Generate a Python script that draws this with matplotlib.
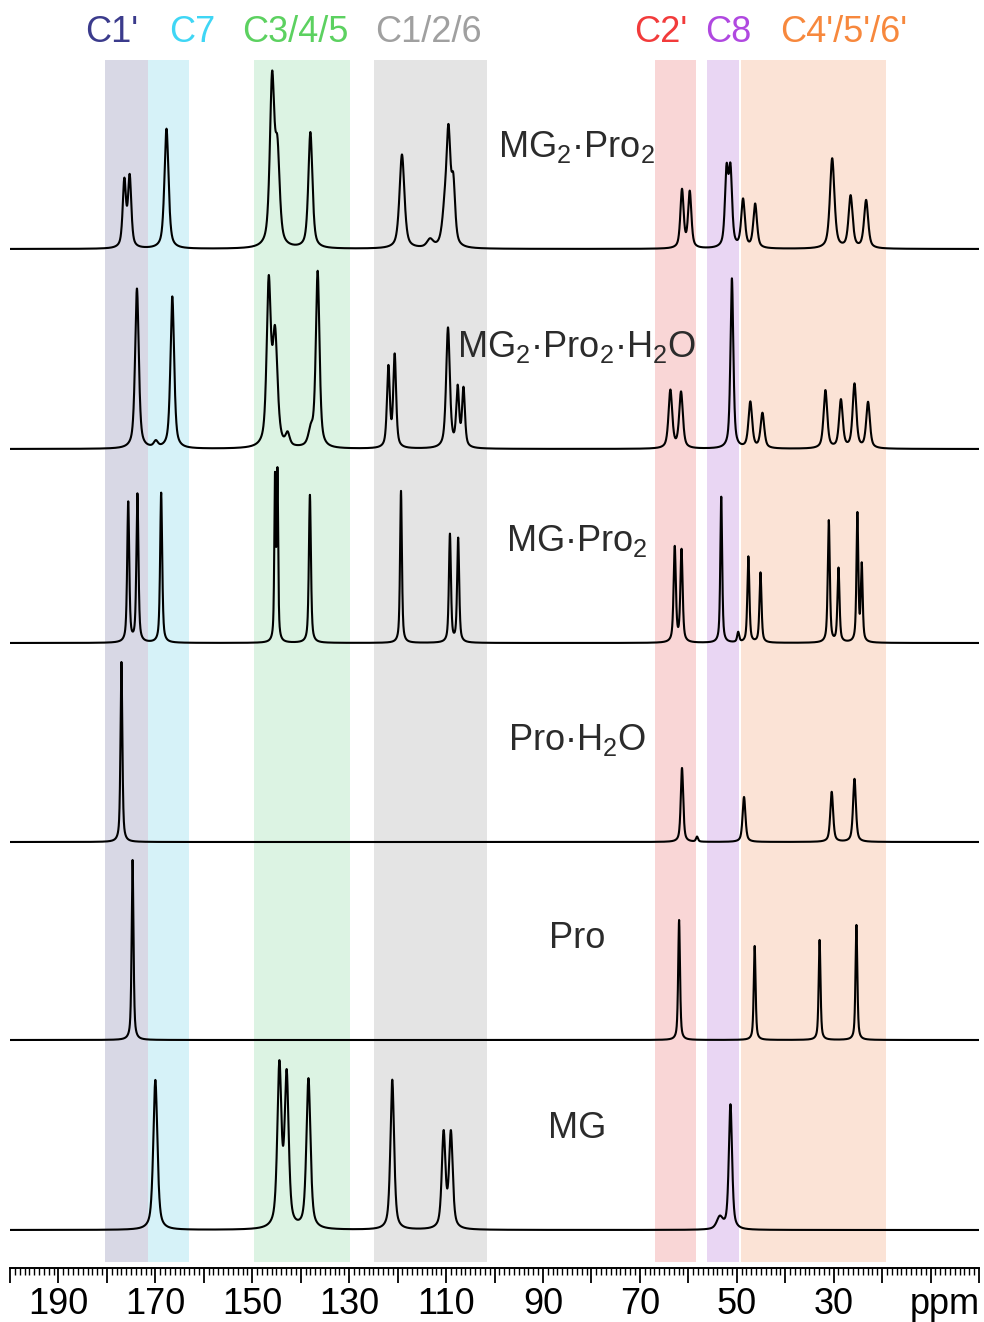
import numpy as np
import matplotlib
matplotlib.use("Agg")
import matplotlib.pyplot as plt
from matplotlib.ticker import MultipleLocator, FuncFormatter

plt.rcParams['font.family'] = ['Liberation Sans', 'DejaVu Sans']
plt.rcParams['mathtext.default'] = 'regular'

# ---- data: 13C CP/MAS peak lists (ppm, intensity, fwhm in ppm) ----
names = ["MG", "Pro", "Pro·H$_2$O", "MG·Pro$_2$",
         "MG$_2$·Pro$_2$·H$_2$O", "MG$_2$·Pro$_2$"]

mg_shift = [170.0, 144.4, 142.9, 138.4, 121.1, 110.5, 109.0, 53.5, 51.3]
mg_height = [150, 160, 150, 150, 150, 95, 95, 12, 125]
mg_fwhm = [1.0, 1.0, 1.0, 1.0, 0.9, 0.9, 0.9, 1.5, 0.8]

pro_shift = [174.7, 61.9, 46.3, 32.9, 25.3]
pro_height = [180, 120, 94, 100, 115]
pro_fwhm = [0.45, 0.45, 0.45, 0.45, 0.45]

proh2o_shift = [177.0, 61.3, 58.2, 48.5, 30.4, 25.7]
proh2o_height = [180, 74, 5, 45, 50, 63]
proh2o_fwhm = [0.45, 0.6, 0.5, 0.7, 0.7, 0.7]

mgpro2_shift = [175.6, 173.7, 168.8, 145.3, 144.8, 138.1, 119.3, 109.2, 107.5,
                62.8, 61.4, 53.2, 49.7, 47.6, 45.1, 31.0, 29.0, 25.1, 24.2]
mgpro2_height = [140, 148, 150, 160, 165, 148, 152, 108, 104,
                 95, 92, 146, 10, 86, 70, 122, 74, 128, 76]
mgpro2_fwhm = [0.5, 0.5, 0.5, 0.35, 0.35, 0.5, 0.45, 0.5, 0.5,
               0.55, 0.55, 0.45, 0.5, 0.5, 0.5, 0.5, 0.5, 0.45, 0.45]

mg2pro2h2o_shift = [173.8, 169.9, 166.5, 146.6, 145.3, 142.7, 137.9, 136.5, 121.9, 120.6,
                    109.6, 107.6, 106.4, 63.7, 61.5, 51.0, 47.2, 44.7, 31.7, 28.5, 25.7, 22.9]
mg2pro2h2o_height = [160, 6, 152, 160, 110, 12, 15, 176, 80, 92,
                     120, 58, 58, 58, 56, 170, 46, 35, 58, 48, 64, 46]
mg2pro2h2o_fwhm = [0.9, 1.0, 0.9, 1.0, 1.2, 1.0, 1.2, 0.9, 0.7, 0.7,
                   0.9, 0.7, 0.7, 0.9, 0.9, 0.7, 0.9, 0.9, 0.9, 0.9, 0.9, 0.9]

mg2pro2_shift = [176.4, 175.3, 167.7, 145.9, 144.8, 138.0, 119.1, 113.3, 110.3, 109.5, 108.5,
                 61.3, 59.7, 52.1, 51.3, 48.7, 46.2, 30.3, 26.5, 23.3]
mg2pro2_height = [66, 70, 120, 165, 88, 116, 94, 8, 30, 108, 58,
                  58, 56, 74, 74, 48, 44, 90, 52, 48]
mg2pro2_fwhm = [0.8, 0.8, 1.0, 1.1, 1.1, 1.0, 1.2, 1.5, 1.2, 1.0, 0.9,
                0.8, 0.8, 0.8, 0.8, 0.9, 0.9, 1.1, 1.0, 1.0]

spectra = [
    (mg_shift, mg_height, mg_fwhm),
    (pro_shift, pro_height, pro_fwhm),
    (proh2o_shift, proh2o_height, proh2o_fwhm),
    (mgpro2_shift, mgpro2_height, mgpro2_fwhm),
    (mg2pro2h2o_shift, mg2pro2h2o_height, mg2pro2h2o_fwhm),
    (mg2pro2_shift, mg2pro2_height, mg2pro2_fwhm),
]

# assignment regions (ppm)
band_labels = ["C1'", "C7", "C3/4/5", "C1/2/6", "C2'", "C8", "C4'/5'/6'"]
band_lo = [171.6, 163.0, 129.8, 101.5, 58.5, 49.6, 19.1]
band_hi = [180.3, 171.6, 149.6, 124.8, 66.9, 56.2, 49.2]
band_label_pos = [179.1, 162.3, 141.1, 113.6, 65.7, 51.7, 27.9]

band_fill = ["#d8d8e5", "#d6f2f8", "#dcf3e3", "#e4e4e4", "#f9d6d6", "#e9d6f3", "#fbe3d6"]
band_text = ["#3b3b8c", "#3fd6f5", "#5cd160", "#a0a0a0", "#f23b3b", "#b048e0", "#f7883d"]

offsets = [38, 228, 426, 625, 819, 1019]


def lineshape(ppm, shifts, heights, fwhms, eta=0.6):
    y = np.zeros_like(ppm)
    for s, h, w in zip(shifts, heights, fwhms):
        d = (ppm - s) / (w / 2)
        lor = 1 / (1 + d ** 2)
        gau = np.exp(-np.log(2) * d ** 2)
        y += h * (eta * lor + (1 - eta) * gau)
    return y


fig = plt.figure(figsize=(9.84, 13.22), dpi=100)
ax = fig.add_axes([10 / 984, 54 / 1322, 969 / 984, 1268 / 1322])
ax.set_xlim(200, 0)
ax.set_ylim(0, 1268)

for lo, hi, c in zip(band_lo, band_hi, band_fill):
    ax.axvspan(lo, hi, ymin=6 / 1268, ymax=1208 / 1268, color=c, lw=0, zorder=0)
for lab, x, c in zip(band_labels, band_label_pos, band_text):
    ax.text(x, 1226, lab, color=c, fontsize=26, ha='center', va='baseline')

ppm = np.linspace(200, 0, 10001)
for (s, h, w), off, name in zip(spectra, offsets, names):
    ax.plot(ppm, off + lineshape(ppm, s, h, w), color='black', lw=1.5, zorder=3)
    ax.text(83, off + 92, name, color='#2b2b2b', fontsize=26, ha='center', va='baseline', zorder=4)

for side in ['left', 'right', 'top']:
    ax.spines[side].set_visible(False)
ax.spines['bottom'].set_linewidth(1.4)
ax.set_yticks([])
ax.xaxis.set_major_locator(MultipleLocator(10))
ax.xaxis.set_minor_locator(MultipleLocator(1))
ax.xaxis.set_major_formatter(FuncFormatter(
    lambda v, p: f"{int(round(v))}" if 30 <= v <= 190 and int(round(v)) % 20 == 10 else ""))
ax.tick_params(axis='x', which='major', length=11, width=1.3, labelsize=26, pad=3)
ax.tick_params(axis='x', which='minor', length=5, width=1.0)
ax.text(7, -19, "ppm", fontsize=26, ha='center', va='top')

fig.savefig("out.png", dpi=100)
